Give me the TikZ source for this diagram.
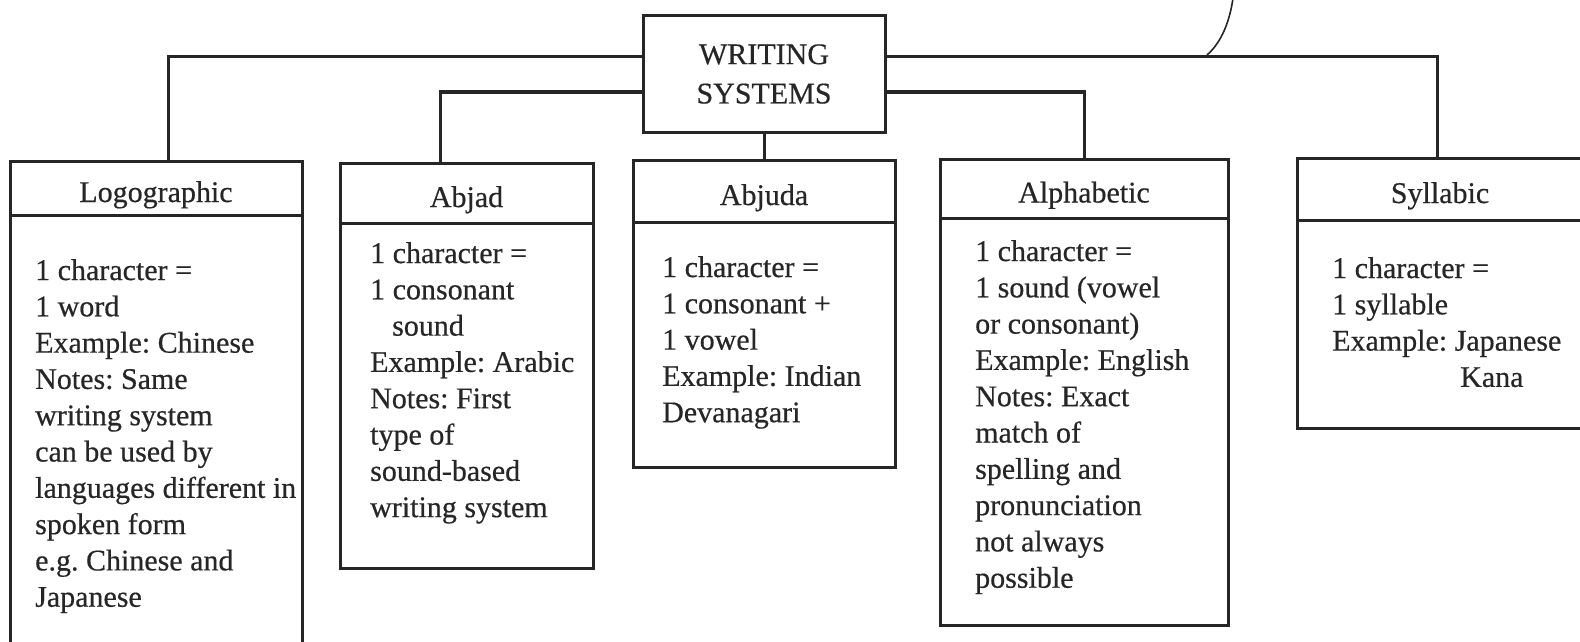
\documentclass[tikz,border=0pt]{standalone}
\usepackage{fontspec}
\setmainfont{Liberation Serif}
\newfontfamily\inkfont{Liberation Serif}[FakeBold=0.5]
\usetikzlibrary{positioning}

\definecolor{ink}{gray}{0.15}
\newcommand{\boxfont}{\inkfont\frenchspacing\fontsize{30}{36.3}\selectfont}

\tikzset{
  box/.style={draw=ink, line width=3pt, inner sep=0pt, outer sep=0pt,
    font=\boxfont, text=ink, align=center},
  headbox/.style={box, text height=28pt, text depth=0pt},
  bodytext/.style={anchor=north west, align=left, inner sep=0pt,
    font=\boxfont, text=ink},
  link/.style={draw=ink, line width=3pt},
}

\begin{document}
\begin{tikzpicture}[x=1pt, y=-1pt]
  \useasboundingbox (0,0) rectangle (1580,642);

  % Top box
  \node[box, minimum width=242pt, minimum height=116pt] (ws) at (764,74) {WRITING\\[3pt]SYSTEMS};

  % Headers
  \node[headbox, minimum width=292pt, minimum height=54pt] (logo) at (156,188) {Logographic};
  \node[headbox, minimum width=253pt, minimum height=60pt] (abjad) at (466.5,193) {Abjad};
  \node[headbox, minimum width=262pt, minimum height=62pt] (abjuda) at (764,191) {Abjuda};
  \node[headbox, minimum width=288pt, minimum height=59pt] (alpha) at (1084,188.5) {Alphabetic};
  \node[headbox, minimum width=286pt, minimum height=62pt] (syll) at (1440,189) {Syllabic};

  % Bodies
  \node[box, minimum width=292pt, minimum height=445pt, below=0pt of logo] (logobody) {};
  \node[box, minimum width=253pt, minimum height=345pt, below=0pt of abjad] (abjadbody) {};
  \node[box, minimum width=262pt, minimum height=245pt, below=0pt of abjuda] (abjudabody) {};
  \node[box, minimum width=288pt, minimum height=407pt, below=0pt of alpha] (alphabody) {};
  \node[box, minimum width=286pt, minimum height=208pt, below=0pt of syll] (syllbody) {};

  % Body texts
  \node[bodytext] (logotext) at (35,259) {1 character =\\1 word\\Example: Chinese\\Notes: Same\\writing system\\can be used by\\languages different in\\spoken form\\e.g. Chinese and\\Japanese};
  \node[bodytext] (abjadtext) at (370,242) {1 character =\\1 consonant\\\hspace*{22pt}sound\\Example: Arabic\\Notes: First\\type of\\sound-based\\writing system};
  \node[bodytext] (abjudatext) at (662,256) {1 character =\\1 consonant +\\1 vowel\\Example: Indian\\Devanagari};
  \node[bodytext] (alphatext) at (975,240) {1 character =\\1 sound (vowel\\or consonant)\\Example: English\\Notes: Exact\\match of\\spelling and\\pronunciation\\not always\\possible};
  \node[bodytext] (sylltext) at (1332,257) {1 character =\\1 syllable\\Example: Japanese\\\hspace*{128pt}Kana};

  % Connectors
  \draw[link] ([yshift=17pt]ws.west) -| ([xshift=12pt]logo.north);
  \draw[link] ([yshift=-18pt]ws.west) -| ([xshift=-26.5pt]abjad.north);
  \draw[link] (ws.south) -- (abjuda.north);
  \draw[link] ([yshift=-18pt]ws.east) -| (alpha.north);
  \draw[link] ([yshift=17pt]ws.east) -| ([xshift=-3pt]syll.north);

  % Stray leader at the top
  \coordinate (lead) at (1207,55);
  \draw[draw=ink, line width=1.6pt] (lead) .. controls (1222,42) and (1230,20) .. (1233,-2);
\end{tikzpicture}
\end{document}
